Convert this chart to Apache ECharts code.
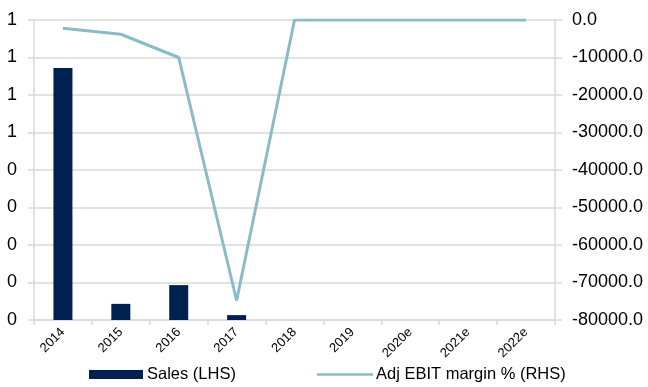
<!DOCTYPE html>
<html>
<head>
<meta charset="utf-8">
<script src="https://cdn.jsdelivr.net/npm/echarts@6/dist/echarts.min.js"></script>
<style>
  html, body { margin: 0; padding: 0; background: #fff; }
  #chart { width: 648px; height: 387px; }
</style>
</head>
<body>
<div id="chart"></div>
<script>
// Years on the category axis
const years = ['2014', '2015', '2016', '2017', '2018', '2019', '2020e', '2021e', '2022e'];
// Sales, left-hand axis
const sales = [0.672, 0.043, 0.093, 0.013, 0, 0, 0, 0, 0];
// Adjusted EBIT margin %, right-hand axis
const ebitMargin = [-2200, -3800, -10000, -74800, 0, 0, 0, 0, 0];

const gridColor = '#d9d9d9';
const font = 'Liberation Sans, Arial, sans-serif';
const textStyle = { color: '#000', fontFamily: font, fontSize: 18 };

const legendText = { color: '#000', fontFamily: font, fontSize: 16.5 };

const chart = echarts.init(document.getElementById('chart'));
chart.setOption({
  animation: false,
  grid: { left: 34, right: 93, top: 20, bottom: 67, containLabel: false },
  legend: [
    {
      top: 361,
      left: 84,
      itemWidth: 54,
      itemHeight: 9,
      itemGap: 4,
      textStyle: { ...legendText, padding: [0, 0, 0, -1] },
      data: [{ name: 'Sales (LHS)', icon: 'rect' }]
    },
    {
      top: 361,
      left: 312,
      itemWidth: 56,
      itemHeight: 9,
      textStyle: { ...legendText, padding: [0, 0, 0, -2] },
      data: [{ name: 'Adj EBIT margin % (RHS)', icon: 'path://M0,3.2 L56,3.2 L56,5.8 L0,5.8 Z' }]
    }
  ],
  xAxis: {
    type: 'category',
    data: years,
    axisLine: { lineStyle: { color: gridColor, width: 1.5 } },
    axisTick: { show: true, length: 5, lineStyle: { color: gridColor, width: 1.5 } },
    axisLabel: { color: '#000', fontFamily: font, fontSize: 13, rotate: 45, margin: 10, interval: 0 },
    splitLine: { show: false }
  },
  yAxis: [
    {
      type: 'value',
      min: 0,
      max: 0.8,
      interval: 0.1,
      position: 'left',
      axisLine: { show: true, lineStyle: { color: gridColor, width: 1.5 } },
      axisTick: { show: true, length: 6, lineStyle: { color: gridColor, width: 1.5 } },
      axisLabel: { ...textStyle, margin: 17, formatter: v => String(Math.round(v + 1e-9)) },
      splitLine: { show: true, lineStyle: { color: gridColor, width: 1.5 } }
    },
    {
      type: 'value',
      min: -80000,
      max: 0,
      interval: 10000,
      position: 'right',
      axisLine: { show: true, lineStyle: { color: gridColor, width: 1.5 } },
      axisTick: { show: true, length: 7, lineStyle: { color: gridColor, width: 1.5 } },
      axisLabel: { ...textStyle, margin: 17, formatter: v => v.toFixed(1) },
      splitLine: { show: false }
    }
  ],
  series: [
    {
      name: 'Sales (LHS)',
      type: 'bar',
      yAxisIndex: 0,
      data: sales,
      barWidth: 19,
      itemStyle: { color: '#00204f' }
    },
    {
      name: 'Adj EBIT margin % (RHS)',
      type: 'line',
      yAxisIndex: 1,
      data: ebitMargin,
      symbol: 'none',
      lineStyle: { color: '#8cbac8', width: 3 },
      itemStyle: { color: '#8cbac8' }
    }
  ]
});
</script>
</body>
</html>
